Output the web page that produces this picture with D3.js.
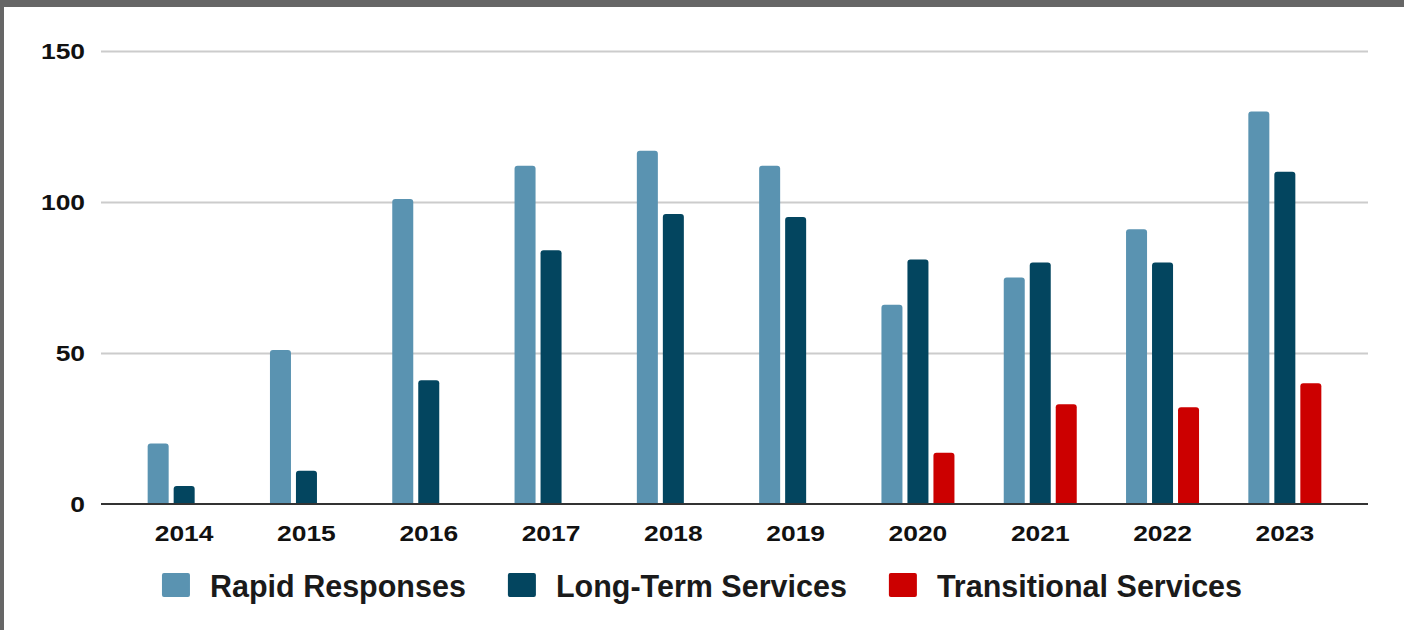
<!DOCTYPE html>
<html lang="en">
<head>
    <meta charset="utf-8" />
    <title>Responses by year</title>
    <script src="https://cdnjs.cloudflare.com/ajax/libs/d3/7.8.5/d3.min.js"></script>
    <style>
        html, body {
            margin: 0;
            padding: 0;
            background: #ffffff;
            overflow: hidden;
        }
        svg {
            display: block;
            font-family: "Liberation Sans", Arial, sans-serif;
        }
        .tick-label {
            font-weight: bold;
            font-size: 22px;
            fill: #111;
            transform-box: fill-box;
        }
        .y-axis .tick-label {
            transform-origin: 100% 50%;
            transform: scaleX(1.2);
        }
        .x-axis .tick-label {
            transform-origin: 50% 50%;
            transform: scaleX(1.2);
        }
        .legend-text {
            font-weight: bold;
            font-size: 30.5px;
            fill: #1a1a1a;
        }
    </style>
</head>
<body>
<script>
    // chart data
    const years = ["2014", "2015", "2016", "2017", "2018", "2019", "2020", "2021", "2022", "2023"];
    const seriesNames = ["Rapid Responses", "Long-Term Services", "Transitional Services"];
    const rapidResponses = [20, 51, 101, 112, 117, 112, 66, 75, 91, 130];
    const longTermServices = [6, 11, 41, 84, 96, 95, 81, 80, 80, 110];
    const transitionalServices = [0, 0, 0, 0, 0, 0, 17, 33, 32, 40];
    const yTicks = [0, 50, 100, 150];

    const colors = ["#5a93b1", "#03455f", "#cc0000"];

    const W = 1404, H = 630;
    const plot = { left: 101, right: 1368, top: 51, bottom: 504 };

    const svg = d3.select("body").append("svg")
        .attr("width", W)
        .attr("height", H);

    // gray frame (top + left)
    svg.append("rect").attr("x", 0).attr("y", 0).attr("width", W).attr("height", H).attr("fill", "#ffffff");
    svg.append("rect").attr("x", 0).attr("y", 0).attr("width", W).attr("height", 7).attr("fill", "#666666");
    svg.append("rect").attr("x", 0).attr("y", 0).attr("width", 4).attr("height", H).attr("fill", "#666666");

    const data = years.map((y, i) => ({
        year: y,
        values: [rapidResponses[i], longTermServices[i], transitionalServices[i]]
    }));

    // scales
    const x0 = d3.scaleBand()
        .domain(years)
        .range([plot.left, plot.right])
        .paddingInner(0)
        .paddingOuter(0.18);

    const groupWidth = 73;
    const x1 = d3.scaleBand()
        .domain(d3.range(seriesNames.length))
        .range([0, groupWidth])
        .paddingInner(0.192)
        .paddingOuter(0);

    const y = d3.scaleLinear().domain([0, 150]).range([plot.bottom, plot.top]);

    // y axis + gridlines
    const yAxis = d3.axisLeft(y)
        .tickValues(yTicks)
        .tickSize(-(plot.right - plot.left))
        .tickPadding(16)
        .tickFormat(d3.format("d"));

    const gy = svg.append("g")
        .attr("class", "y-axis")
        .attr("transform", `translate(${plot.left},0)`)
        .call(yAxis);
    gy.select(".domain").remove();
    gy.selectAll(".tick line")
        .attr("stroke", "#cccccc")
        .attr("stroke-width", 2)
        .attr("opacity", d => d === 0 ? 0 : 1);
    gy.selectAll(".tick text")
        .attr("class", "tick-label")
        .attr("dy", "0.36em");

    // x axis labels
    const xAxis = d3.axisBottom(x0).tickSize(0).tickPadding(21);
    const gx = svg.append("g")
        .attr("class", "x-axis")
        .attr("transform", `translate(0,${plot.bottom})`)
        .call(xAxis);
    gx.select(".domain").remove();
    gx.selectAll(".tick text").attr("class", "tick-label");

    // bars with rounded top corners
    function barPath(bx, by, w, h, r) {
        r = Math.min(r, h, w / 2);
        return `M${bx},${by + h}V${by + r}Q${bx},${by} ${bx + r},${by}` +
            `H${bx + w - r}Q${bx + w},${by} ${bx + w},${by + r}V${by + h}Z`;
    }

    const groups = svg.append("g").attr("class", "bars")
        .selectAll("g")
        .data(data)
        .join("g")
        .attr("transform", d => `translate(${x0(d.year) + (x0.bandwidth() - groupWidth) / 2},0)`);

    groups.selectAll("path")
        .data(d => d.values.map((v, i) => ({ v, i })).filter(e => e.v > 0))
        .join("path")
        .attr("fill", e => colors[e.i])
        .attr("d", e => barPath(x1(e.i), y(e.v), x1.bandwidth(), y(0) - y(e.v), 3));

    // baseline
    svg.append("line")
        .attr("x1", plot.left)
        .attr("x2", plot.right)
        .attr("y1", y(0))
        .attr("y2", y(0))
        .attr("stroke", "#333333")
        .attr("stroke-width", 2);

    // legend
    const legend = svg.append("g").attr("class", "legend");
    const swatchW = 28, swatchH = 24, swatchGap = 20, itemGap = 42;
    const items = legend.selectAll("g")
        .data(seriesNames)
        .join("g");

    items.append("rect")
        .attr("width", swatchW)
        .attr("height", swatchH)
        .attr("rx", 2)
        .attr("y", -swatchH)
        .attr("fill", (d, i) => colors[i]);

    items.append("text")
        .attr("class", "legend-text")
        .attr("x", swatchW + swatchGap)
        .text(d => d);

    let offset = 0;
    const widths = [];
    items.each(function () {
        const tw = d3.select(this).select("text").node().getComputedTextLength();
        widths.push(swatchW + swatchGap + tw);
    });
    const total = d3.sum(widths) + itemGap * (widths.length - 1);
    const startX = (W - total) / 2;
    items.attr("transform", (d, i) => {
        const tx = startX + offset;
        offset += widths[i] + itemGap;
        return `translate(${tx},597)`;
    });
</script>
</body>
</html>
